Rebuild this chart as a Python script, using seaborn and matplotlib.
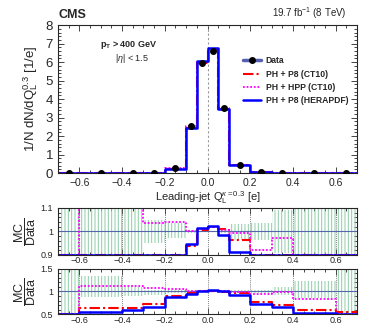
import numpy as np
import pandas as pd
import matplotlib
matplotlib.use("Agg")
import matplotlib.pyplot as plt
from matplotlib.ticker import MultipleLocator
import seaborn as sns

# bin edges of the leading-jet charge distribution
edges = [-0.7, -0.6, -0.4, -0.3, -0.2, -0.1, -0.05, 0.0, 0.05, 0.1, 0.2, 0.3, 0.4, 0.6, 0.7]

# main panel
data_vals = [0.005, 0.01, 0.01, 0.03, 0.26, 2.56, 5.94, 6.59, 3.50, 0.45, 0.07, 0.02, 0.01, 0.005]
data_errs = [0.002, 0.002, 0.003, 0.005, 0.01, 0.03, 0.04, 0.04, 0.03, 0.01, 0.004, 0.002, 0.002, 0.002]
mc_p8_ct10 = [0.003, 0.006, 0.007, 0.02, 0.23, 2.42, 5.96, 6.68, 3.47, 0.44, 0.055, 0.014, 0.006, 0.003]
mc_hpp_ct10 = [0.003, 0.011, 0.011, 0.03, 0.27, 2.56, 5.99, 6.72, 3.51, 0.44, 0.066, 0.02, 0.008, 0.003]
mc_p8_hera = [0.003, 0.006, 0.006, 0.02, 0.22, 2.43, 6.04, 6.77, 3.45, 0.42, 0.05, 0.013, 0.005, 0.003]

# upper ratio panel (MC / Data), values beyond the range are drawn at the border
r1_p8_ct10 = [0.85, 0.85, 0.85, 0.85, 0.85, 0.94, 1.005, 1.02, 1.01, 0.965, 0.85, 0.85, 0.85, 0.85]
r1_hpp_ct10 = [0.85, 1.15, 1.15, 1.036, 1.041, 1.0, 1.01, 1.02, 1.007, 0.995, 0.921, 0.974, 0.85, 0.85]
r1_p8_hera = [0.85, 0.85, 0.85, 0.85, 0.85, 0.945, 1.015, 1.025, 0.985, 0.913, 0.85, 0.85, 0.85, 0.85]
r1_band_lo = [0.8, 0.8, 0.8, 0.95, 0.971, 0.992, 0.996, 0.996, 0.992, 0.965, 0.964, 0.91, 0.8, 0.8]
r1_band_hi = [1.2, 1.2, 1.2, 1.05, 1.036, 1.008, 1.004, 1.004, 1.008, 1.03, 1.036, 1.09, 1.2, 1.2]

# lower ratio panel
r2_p8_ct10 = [0.5, 0.63, 0.63, 0.715, 0.90, 0.96, 1.0, 1.01, 0.99, 0.96, 0.77, 0.70, 0.60, 0.55]
r2_hpp_ct10 = [0.5, 1.13, 1.13, 1.08, 1.05, 1.0, 1.0, 1.02, 1.0, 0.98, 0.95, 0.98, 0.83, 0.5]
r2_p8_hera = [0.5, 0.555, 0.585, 0.665, 0.875, 0.95, 1.015, 1.03, 1.0, 0.93, 0.715, 0.66, 0.52, 0.5]
r2_band_lo = [0.4, 0.885, 0.90, 0.93, 0.97, 0.99, 0.995, 0.995, 0.99, 0.97, 0.97, 0.93, 0.86, 0.4]
r2_band_hi = [1.6, 1.34, 1.10, 1.035, 1.03, 1.01, 1.005, 1.005, 1.01, 1.03, 1.03, 1.10, 1.22, 1.6]

labels = ["PH + P8 (CT10)", "PH + HPP (CT10)", "PH + P8 (HERAPDF)"]
colors = ["#ff0000", "#ff00ff", "#0000ff"]
styles = [(0, (5, 1.5, 1, 1.5)), (0, (1, 1)), "-"]
widths = [1.5, 1.3, 1.8]

sns.set_theme(style="ticks")
plt.rcParams['font.family'] = ['Liberation Sans', 'DejaVu Sans']
plt.rcParams['mathtext.fontset'] = 'custom'
plt.rcParams['mathtext.rm'] = 'Liberation Sans'
plt.rcParams['mathtext.it'] = 'Liberation Sans:italic'
plt.rcParams['mathtext.bf'] = 'Liberation Sans:bold'
plt.rcParams['hatch.linewidth'] = 0.7

centers = [0.5 * (a + b) for a, b in zip(edges[:-1], edges[1:])]


def style_axis(ax, ymajor, yminor, labelsize):
    ax.tick_params(which='both', direction='in', top=True, right=True, labelsize=labelsize, width=0.6)
    ax.tick_params(which='major', length=4)
    ax.tick_params(which='minor', length=2)
    ax.xaxis.set_major_locator(MultipleLocator(0.2))
    ax.xaxis.set_minor_locator(MultipleLocator(0.05))
    ax.yaxis.set_major_locator(MultipleLocator(ymajor))
    ax.yaxis.set_minor_locator(MultipleLocator(yminor))
    for s in ax.spines.values():
        s.set_linewidth(0.8)
    ax.set_xlim(-0.7, 0.7)
    ax.set_xlabel("")
    ax.set_ylabel("")


def stairs(ax, vals, color, ls, lw, lo=None, hi=None):
    v = np.array(vals, dtype=float)
    if lo is not None:
        v = np.clip(v, lo, hi)
    df = pd.DataFrame({"q": centers, "w": v})
    sns.histplot(data=df, x="q", weights="w", bins=edges, element="step", fill=False,
                 color=color, linestyle=ls, linewidth=lw, ax=ax)


fig = plt.figure(figsize=(3.65, 3.26), dpi=100)
ax = fig.add_axes([0.159, 0.469, 0.819, 0.454])
ax1 = fig.add_axes([0.159, 0.218, 0.819, 0.144])
ax2 = fig.add_axes([0.159, 0.036, 0.819, 0.140])

# main panel
ax.axvline(0, color='#999999', ls=(0, (2, 2)), lw=0.8)
handles = []
for vals, lab, c, ls, lw in zip([mc_p8_ct10, mc_hpp_ct10, mc_p8_hera], labels, colors, styles, widths):
    stairs(ax, vals, c, ls, lw)
    handles.append(plt.Line2D([], [], color=c, ls=ls, lw=lw, label=lab))
ax.errorbar(centers, data_vals, yerr=data_errs, fmt='o', color='black', ms=4, lw=0.8, zorder=5)
data_handle = plt.Line2D([], [], color='#5560b0', lw=2.5, marker='o', mfc='black', mec='black',
                         ms=4, label='Data')
ax.set_ylim(0, 8)
style_axis(ax, 1, 0.2, 9.5)
ax.tick_params(axis='x', labelsize=7.5)
ax.set_ylabel(r"1/N dN/dQ$_{\mathrm{L}}^{0.3}$ [1/e]", fontsize=9.5, labelpad=4)
ax.set_xlabel(r"Leading-jet Q$_{\mathrm{L}}^{\kappa=0.3}$ [e]", fontsize=8, labelpad=1)
ax.legend(handles=[data_handle] + handles, loc='upper left', bbox_to_anchor=(0.6, 0.83),
          frameon=False, handlelength=2.0, handletextpad=0.6, labelspacing=0.5, borderpad=0.2,
          prop={'weight': 'bold', 'size': 6.2})
ax.text(0.0, 1.03, "CMS", transform=ax.transAxes, fontsize=9, fontweight='bold', va='bottom', ha='left')
ax.text(0.967, 1.03, r"19.7 fb$^{-1}$ (8 TeV)", transform=ax.transAxes, fontsize=7, va='bottom', ha='right')
ax.text(0.14, 0.85, r"p$_{\mathbf{T}}$ > 400 GeV", transform=ax.transAxes, fontsize=6.5, fontweight='bold')
ax.text(0.19, 0.755, r"|$\eta$| < 1.5", transform=ax.transAxes, fontsize=6.5)

# ratio panels
panels = [
    (ax1, (0.9, 1.1), 0.1, 0.02, [r1_p8_ct10, r1_hpp_ct10, r1_p8_hera], r1_band_lo, r1_band_hi),
    (ax2, (0.5, 1.5), 0.5, 0.1, [r2_p8_ct10, r2_hpp_ct10, r2_p8_hera], r2_band_lo, r2_band_hi),
]
for rax, (lo, hi), ymaj, ymin, ratios, blo, bhi in panels:
    bl = np.clip(blo, lo, hi)
    bh = np.clip(bhi, lo, hi)
    rax.fill_between(edges, np.append(bl, bl[-1]), np.append(bh, bh[-1]), step='post',
                     facecolor='none', edgecolor='#8ccca6', hatch='|||||', linewidth=0)
    for xv in [-0.6, -0.4, -0.2, 0, 0.2, 0.4, 0.6]:
        rax.axvline(xv, color='#555555', ls=(0, (1, 1.5)), lw=0.6)
    rax.axhline(1, color='#5566aa', lw=0.8)
    for vals, c, ls, lw in zip(ratios, colors, styles, widths):
        stairs(rax, vals, c, ls, lw, lo=lo + 0.002 * (hi - lo), hi=hi)
    rax.set_ylim(lo, hi)
    style_axis(rax, ymaj, ymin, 6.5)
    rax.tick_params(axis='x', labelsize=6.5, pad=1)
    rax.set_ylabel(r"$\dfrac{\mathrm{MC}}{\mathrm{Data}}$", fontsize=9, labelpad=2)
    rax.yaxis.set_major_formatter(plt.FuncFormatter(lambda v, p: f"{v:g}"))

fig.savefig("out.png", dpi=100)
